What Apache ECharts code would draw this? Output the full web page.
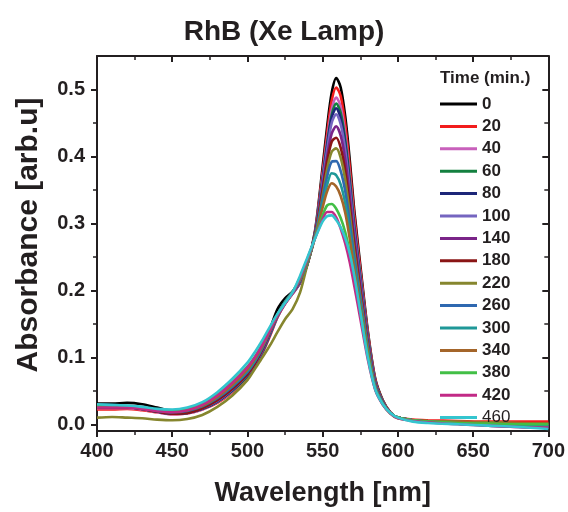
<!DOCTYPE html>
<html>
<head>
<meta charset="utf-8">
<script src="https://cdn.jsdelivr.net/npm/echarts@6/dist/echarts.min.js"></script>
<style>
html,body{margin:0;padding:0;background:#fff;}
#c{width:568px;height:512px;}
</style>
</head>
<body>
<div id="c"></div>
<script>
// Wavelength grid (nm)
var wavelengths = [400,410,420,430,440,450,460,470,480,490,500,505,510,515,520,525,530,535,540,545,550,553,556,559,562,565,568,571,575,580,585,590,595,600,610,620,640,660,680,700];

var times = ['0','20','40','60','80','100','140','180','220','260','300','340','380','420','460'];
var colors = ['#000000','#f21d1d','#c860bb','#13803f','#1c2678','#7565c0','#7a2488','#8a1515','#86862e','#2f68b0','#1f9898','#a4652a','#42bf46','#c22a86','#34c5cf'];

var abs_0   = [.031,.031,.032,.030,.025,.020,.020,.025,.035,.050,.072,.088,.110,.142,.172,.188,.198,.212,.240,.290,.385,.445,.495,.517,.503,.460,.395,.320,.238,.140,.068,.036,.018,.010,.006,.004,.002,.001,.000,.000];
var abs_20  = [.022,.022,.023,.021,.018,.015,.016,.022,.032,.048,.070,.086,.106,.132,.160,.180,.195,.211,.240,.288,.378,.435,.483,.503,.490,.448,.385,.313,.233,.137,.066,.035,.018,.010,.007,.006,.005,.004,.004,.004];
var abs_40  = [.024,.024,.024,.022,.018,.015,.016,.022,.033,.049,.071,.087,.107,.133,.160,.180,.195,.211,.240,.287,.372,.425,.470,.488,.474,.433,.372,.302,.226,.133,.064,.034,.017,.010,.006,.004,.002,.000,-.001,-.002];
var abs_60  = [.025,.025,.025,.023,.019,.016,.017,.023,.034,.050,.072,.088,.108,.134,.161,.181,.196,.212,.240,.286,.368,.419,.462,.479,.465,.425,.366,.297,.222,.131,.063,.034,.017,.010,.006,.004,.002,.001,.000,.000];
var abs_80  = [.025,.025,.025,.023,.019,.016,.017,.023,.034,.051,.073,.089,.109,.135,.162,.181,.196,.212,.241,.286,.366,.416,.458,.472,.457,.418,.359,.292,.218,.129,.062,.033,.017,.010,.006,.004,.002,.000,-.002,-.003];
var abs_100 = [.026,.026,.026,.024,.020,.017,.018,.024,.035,.052,.074,.090,.110,.136,.162,.181,.196,.212,.241,.285,.362,.410,.450,.463,.448,.410,.352,.287,.214,.127,.061,.033,.017,.010,.006,.004,.001,-.001,-.003,-.004];
var abs_140 = [.026,.026,.026,.024,.020,.017,.018,.025,.036,.053,.075,.091,.111,.137,.163,.182,.197,.213,.241,.284,.355,.400,.434,.445,.431,.395,.340,.278,.208,.124,.060,.032,.017,.010,.006,.003,.001,-.002,-.004,-.005];
var abs_180 = [.025,.025,.025,.023,.019,.016,.017,.024,.036,.053,.075,.091,.112,.138,.163,.182,.197,.214,.242,.284,.350,.392,.422,.428,.413,.378,.326,.267,.200,.120,.058,.032,.017,.010,.006,.004,.003,.002,.001,.001];
var abs_220 = [.010,.011,.010,.009,.007,.006,.008,.014,.026,.043,.066,.083,.100,.118,.138,.157,.172,.197,.240,.280,.342,.381,.407,.412,.398,.365,.315,.258,.194,.117,.057,.031,.016,.009,.006,.005,.004,.003,.002,.001];
var abs_260 = [.026,.026,.026,.024,.020,.018,.020,.027,.039,.056,.078,.094,.114,.139,.164,.183,.198,.215,.243,.282,.337,.370,.392,.393,.378,.348,.302,.249,.188,.114,.056,.031,.017,.010,.006,.004,.002,.000,-.001,-.002];
var abs_300 = [.027,.027,.027,.025,.021,.019,.021,.028,.041,.058,.080,.096,.116,.140,.164,.183,.198,.216,.244,.281,.330,.358,.375,.372,.358,.330,.288,.239,.181,.111,.055,.031,.017,.010,.006,.004,.001,-.001,-.002,-.003];
var abs_340 = [.026,.026,.026,.024,.021,.019,.021,.028,.041,.059,.082,.098,.117,.140,.163,.181,.197,.217,.245,.280,.324,.348,.360,.355,.341,.316,.277,.231,.176,.108,.054,.030,.017,.010,.006,.004,.003,.002,.001,.001];
var abs_380 = [.028,.028,.027,.025,.022,.020,.023,.031,.045,.063,.086,.101,.120,.142,.164,.181,.197,.219,.247,.279,.312,.327,.329,.322,.308,.287,.257,.218,.168,.103,.052,.030,.017,.010,.006,.004,.002,.001,.000,.000];
var abs_420 = [.025,.025,.025,.023,.020,.018,.021,.029,.043,.062,.085,.100,.119,.141,.163,.180,.196,.219,.248,.278,.306,.317,.317,.309,.292,.270,.242,.207,.158,.097,.051,.029,.016,.009,.005,.003,.000,-.002,-.004,-.005];
var abs_460 = [.030,.029,.028,.026,.023,.022,.025,.033,.048,.068,.092,.108,.126,.146,.165,.181,.197,.222,.250,.278,.303,.311,.312,.305,.294,.278,.255,.222,.168,.100,.052,.030,.017,.010,.004,.002,.000,-.002,-.004,-.007];

var allAbs = [abs_0,abs_20,abs_40,abs_60,abs_80,abs_100,abs_140,abs_180,abs_220,abs_260,abs_300,abs_340,abs_380,abs_420,abs_460];

var yMajorTicks = [0,0.1,0.2,0.3,0.4,0.5];
var yMinorTicks = [0.05,0.15,0.25,0.35,0.45];

var FONT = '"Liberation Sans", Arial, Helvetica, sans-serif';
var INK = '#231f20';

var chart = echarts.init(document.getElementById('c'), null, {renderer:'canvas'});

var series = times.map(function(t, i){
  return {
    name: t,
    type: 'line',
    data: wavelengths.map(function(w, j){ return [w, allAbs[i][j]]; }),
    smooth: 0.3,
    showSymbol: false,
    symbol: 'none',
    lineStyle: {width: 2.6, color: colors[i]},
    itemStyle: {color: colors[i]},
    animation: false,
    z: 2
  };
});

var baseY = {
  type: 'value', min: -0.01, max: 0.55,
  splitLine: {show:false}, axisLine: {show:false},
  axisLabel: {show:false}, axisTick: {show:false}
};

var option = {
  animation: false,
  backgroundColor: '#ffffff',
  color: colors,
  title: {
    text: 'RhB (Xe Lamp)',
    left: 'center',
    top: 13,
    textStyle: {fontFamily: FONT, fontWeight: 'bold', fontSize: 28, color: INK}
  },
  grid: {left: 97, right: 19, top: 56, bottom: 81, containLabel: false},
  legend: {
    orient: 'vertical',
    left: 440,
    top: 94,
    padding: 0,
    icon: 'rect',
    itemWidth: 37,
    itemHeight: 3,
    itemGap: 2.4,
    data: times,
    textStyle: {
      fontFamily: FONT, fontSize: 17, lineHeight: 20, color: INK, fontWeight: 'bold',
      rich: {r: {fontFamily: FONT, fontSize: 17, lineHeight: 20, fontWeight: 'normal', color: INK}}
    },
    formatter: function(n){ return n === '460' ? '{r|' + n + '}' : n; }
  },
  graphic: [{
    type: 'text', left: 440, top: 70,
    style: {text: 'Time (min.)', font: 'bold 17px ' + FONT, fill: INK}
  }, {
    type: 'text', x: 29, y: 235, rotation: Math.PI / 2,
    style: {text: 'Absorbance [arb.u]', font: 'bold 30px ' + FONT, fill: INK,
      align: 'center', verticalAlign: 'middle'}
  }],
  xAxis: [{
    type: 'value', min: 400, max: 700, interval: 50, position: 'bottom',
    name: 'Wavelength [nm]', nameLocation: 'middle', nameGap: 49,
    nameTextStyle: {fontFamily: FONT, fontWeight: 'bold', fontSize: 27, color: INK},
    axisLine: {show: true, onZero: false, lineStyle: {color: INK, width: 2}},
    axisTick: {show: true, inside: false, length: 6, lineStyle: {color: INK, width: 2}},
    minorTick: {show: true, splitNumber: 2, length: 4, lineStyle: {color: INK, width: 1.5}},
    axisLabel: {margin: 10, fontFamily: FONT, fontWeight: 'bold', fontSize: 20, color: INK},
    splitLine: {show: false}
  }, {
    type: 'value', min: 400, max: 700, interval: 50, position: 'top',
    axisLine: {show: true, onZero: false, lineStyle: {color: INK, width: 2}},
    axisTick: {show: true, inside: true, length: 6, lineStyle: {color: INK, width: 2}},
    minorTick: {show: true, splitNumber: 2, length: 4, lineStyle: {color: INK, width: 1.5}},
    axisLabel: {show: false},
    splitLine: {show: false}
  }],
  yAxis: [{
    type: 'value', min: -0.01, max: 0.55, position: 'left',
    axisLine: {show: true, onZero: false, lineStyle: {color: INK, width: 2}},
    axisTick: {show: true, inside: false, length: 6, customValues: yMajorTicks, lineStyle: {color: INK, width: 2}},
    axisLabel: {margin: 12, customValues: yMajorTicks, fontFamily: FONT, fontWeight: 'bold', fontSize: 20, color: INK,
      formatter: function(v){ return v.toFixed(1); }},
    splitLine: {show: false}
  }, {
    type: 'value', min: -0.01, max: 0.55, position: 'right',
    axisLine: {show: true, onZero: false, lineStyle: {color: INK, width: 2}},
    axisTick: {show: true, inside: true, length: 6, customValues: yMajorTicks, lineStyle: {color: INK, width: 2}},
    axisLabel: {show: false},
    splitLine: {show: false}
  }, Object.assign({}, baseY, {
    position: 'left',
    axisTick: {show: true, inside: false, length: 4, customValues: yMinorTicks, lineStyle: {color: INK, width: 1.5}}
  }), Object.assign({}, baseY, {
    position: 'right',
    axisTick: {show: true, inside: true, length: 4, customValues: yMinorTicks, lineStyle: {color: INK, width: 1.5}}
  })],
  series: series
};

chart.setOption(option);
</script>
</body>
</html>
